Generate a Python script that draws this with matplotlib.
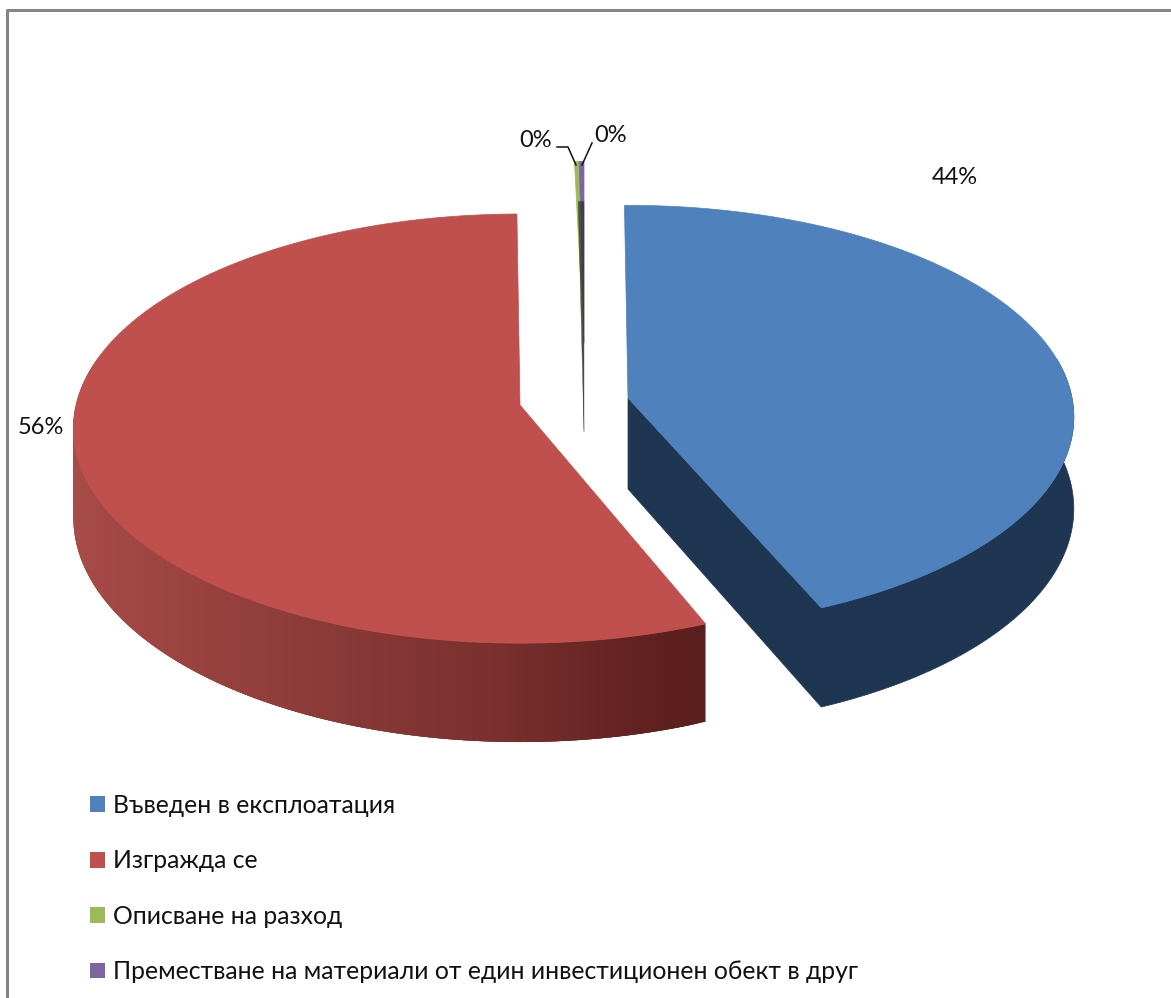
import numpy as np
import matplotlib
matplotlib.use("Agg")
import matplotlib.pyplot as plt
from matplotlib.colors import to_rgb
from matplotlib.patches import Polygon, Patch

labels = ["Въведен в експлоатация", "Изгражда се", "Описване на разход",
          "Преместване на материали от един инвестиционен обект в друг"]
values = [43.6, 56.0, 0.2, 0.2]
pct_labels = ["44%", "56%", "0%", "0%"]

top_colors = ["#4F81BD", "#C0504D", "#9BBB59", "#8064A2"]
wall_colors = ["#1F3653", "#7A2E2C", "#3B4A22", "#3B3350"]

# pie geometry, in pixels of the output picture
A = 444
# per slice: half height, perspective, wall depth, apex, size, small turn in degrees
B = [210, 212, 212, 212]
K = [0.09, 0.11, 0.11, 0.11]
DEPTH = [91, 88, 88, 88]
apex = [(628, 398), (520, 405), (584, 343), (584, 343)]
scale = [1, 1, 0.95, 0.95]
nudge = [-0.5, 1.0, 0, 0]

# the red wall gets darker from left to right
wall_x = [73, 110, 300, 500, 640, 705]
wall_r = ["#A94C49", "#A34846", "#8E3C3A", "#79302E", "#622221", "#5A1F1E"]


def project(ang, i):
    u, v = np.sin(ang), np.cos(ang)
    s = 1 / (1 + K[i] * v)
    return (apex[i][0] + A * scale[i] * u * s,
            apex[i][1] - B[i] * scale[i] * v * s,
            DEPTH[i] * scale[i] * s)


plt.rcParams["font.family"] = ["Lato", "Roboto", "DejaVu Sans"]
fig = plt.figure(figsize=(11.71, 9.98), dpi=100)
ax = fig.add_axes([0, 0, 1, 1])
ax.set_xlim(0, 1171)
ax.set_ylim(998, 0)
ax.axis("off")

# chart frame, only top and left fall inside the picture
ax.plot([7, 7, 1171], [998, 10, 10], color="#868686", lw=2.2)

fracs = np.array(values) / 100 * 2 * np.pi
cum = np.concatenate([[0], np.cumsum(fracs)[:-1]])

for i in range(len(values)):
    start = cum[i] + np.deg2rad(nudge[i])
    ang = np.linspace(start, start + fracs[i], 200)
    x, y, d = project(ang, i)
    ax0, ay0 = apex[i]
    d0 = DEPTH[i] * scale[i]
    px = np.concatenate([[ax0], x])
    py = np.concatenate([[ay0], y])
    front = np.cos(ang) < 0.2

    if i == 0:
        # outer wall and cut face in one flat shape
        fx, fy, fd = x[front], y[front], d[front]
        outline = (list(zip(fx, fy)) + [(ax0, ay0), (ax0, ay0 + d0)]
                   + list(zip(fx[::-1], (fy + fd)[::-1])))
        ax.add_patch(Polygon(outline, closed=True, fc=wall_colors[0], ec=wall_colors[0], lw=0.5, zorder=2))
    elif i == 1:
        # shaded wall, strips overlap so no seams show
        rgb = [to_rgb(w) for w in wall_r]
        for j in range(len(ang) - 1):
            if not front[j]:
                continue
            k = min(j + 3, len(ang) - 1)
            c = [np.interp(x[j], wall_x, [p[n] for p in rgb]) for n in range(3)]
            ax.add_patch(Polygon([(x[j], y[j]), (x[k], y[k]), (x[k], y[k] + d[k]), (x[j], y[j] + d[j])],
                                 closed=True, fc=c, ec="none", zorder=2))

    ax.add_patch(Polygon(np.column_stack([px, py]), closed=True, fc=top_colors[i],
                         ec=top_colors[i], lw=0.5, zorder=3))

    if i > 1:
        # the thin slices are nearly edge-on, the wall shows through their middle
        wx = np.concatenate([[ax0], ax0 + (x - ax0) * 0.6])
        wy = np.concatenate([[ay0 + d0 + 5], y + 40])
        ax.add_patch(Polygon(np.column_stack([wx, wy]), closed=True, fc=wall_colors[i],
                             ec=wall_colors[i], lw=0.3, alpha=0.85, zorder=4))

# percent labels
FS = 17
ax.text(955, 177, pct_labels[0], fontsize=FS, ha="center", va="center", color="#111111")
ax.text(41, 428, pct_labels[1], fontsize=FS, ha="center", va="center", color="#111111")
ax.text(536, 140, pct_labels[2], fontsize=FS, ha="center", va="center", color="#111111")
ax.text(611, 135, pct_labels[3], fontsize=FS, ha="center", va="center", color="#111111")

# leader lines of the two small slices
ax.plot([557, 568, 576], [147, 147, 165], color="#111111", lw=1.1, zorder=8)
ax.plot([592, 582], [143, 165], color="#111111", lw=1.1, zorder=8)

handles = [Patch(fc=c, ec="none") for c in top_colors]
ax.legend(handles, labels, loc="upper left", bbox_to_anchor=(90 / 1171, 1 - 794 / 998),
          frameon=False, fontsize=17.8, handlelength=0.607, handleheight=0.607,
          handletextpad=0.32, labelspacing=1.31, borderpad=0, borderaxespad=0,
          labelcolor="#111111")

fig.savefig("out.png", dpi=100)
